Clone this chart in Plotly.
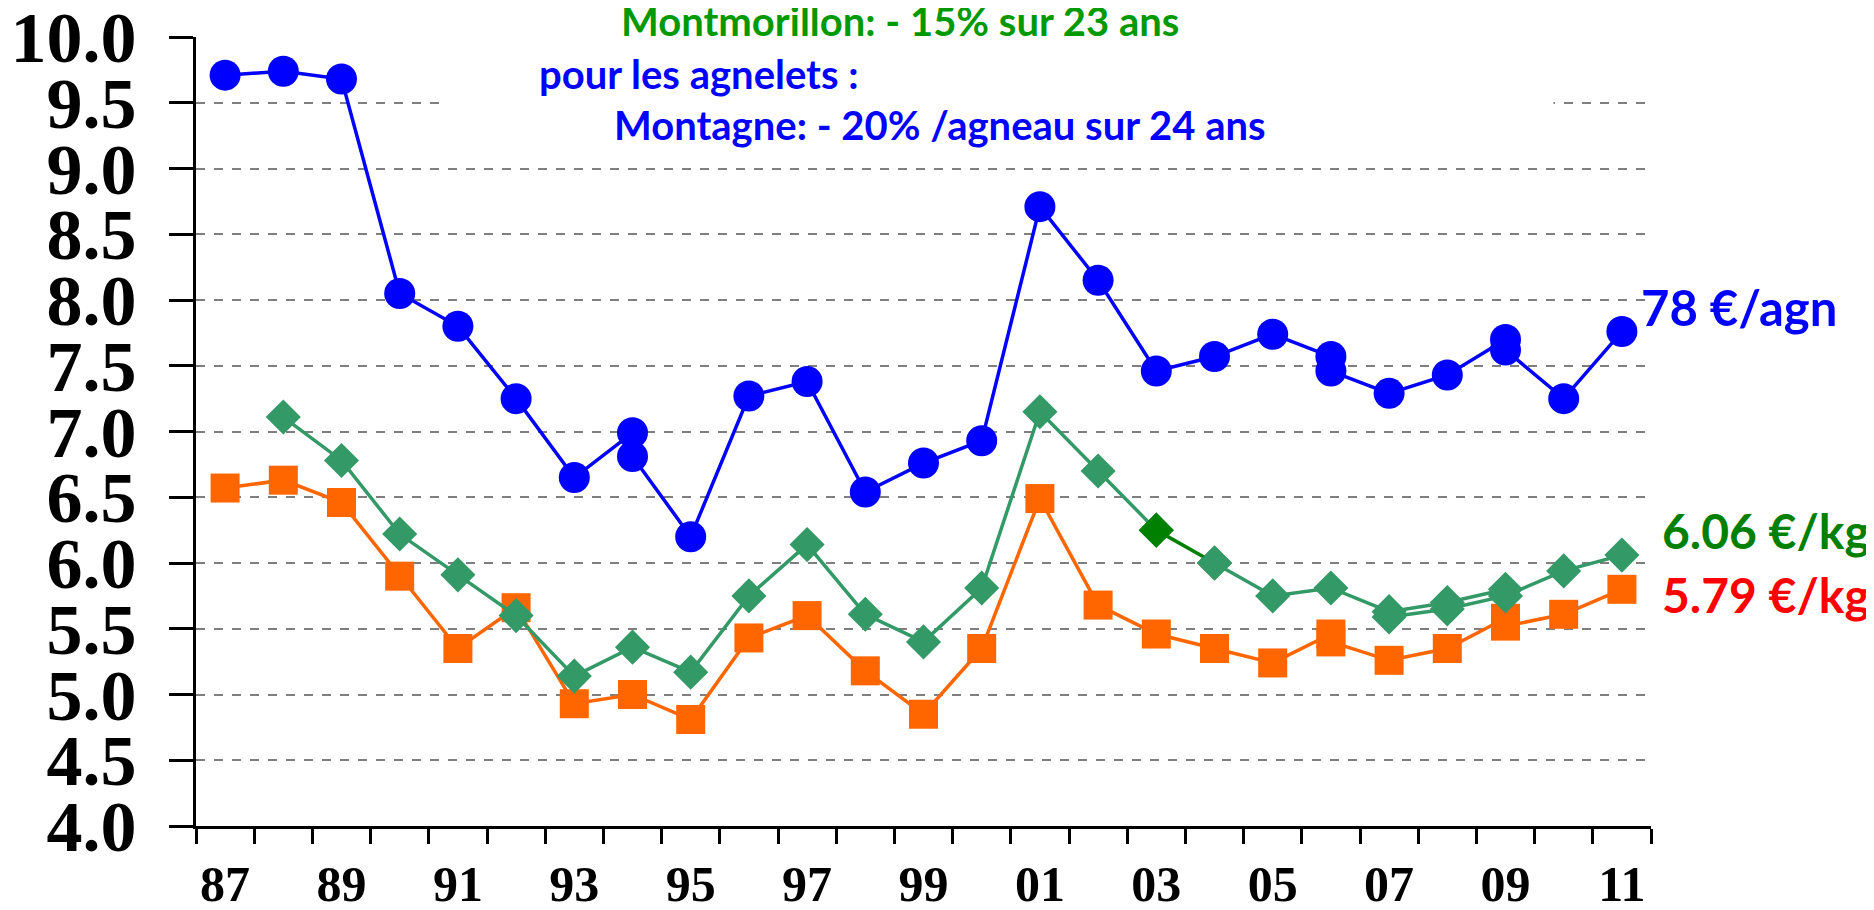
import plotly.graph_objects as go

# ---------------- data ----------------
years = list(range(1987, 2012))
tick_years = years[::2]
tick_labels = ["87", "89", "91", "93", "95", "97", "99", "01", "03", "05", "07", "09", "11"]
y_ticks = [4.0, 4.5, 5.0, 5.5, 6.0, 6.5, 7.0, 7.5, 8.0, 8.5, 9.0, 9.5, 10.0]

# Montagne (price per lamb / 10) - chained segments
blue_a_years = list(range(1987, 1995))
blue_a = [9.71, 9.74, 9.68, 8.05, 7.80, 7.25, 6.65, 6.99]
blue_b_years = list(range(1994, 2007))
blue_b = [6.81, 6.20, 7.27, 7.38, 6.54, 6.76, 6.93, 8.71, 8.15, 7.46, 7.57, 7.74, 7.57]
blue_c_years = list(range(2006, 2010))
blue_c = [7.46, 7.29, 7.43, 7.70]
blue_d_years = list(range(2009, 2012))
blue_d = [7.62, 7.25, 7.76]

# Montmorillon (euro/kg)
green_a_years = list(range(1988, 2004))
green_a = [7.11, 6.78, 6.22, 5.91, 5.60, 5.14, 5.36, 5.17, 5.75, 6.14, 5.61, 5.40, 5.81, 7.15, 6.70, 6.25]
green_b_years = [2003, 2004]
green_b = [6.25, 6.00]
green_c_years = list(range(2004, 2010))
green_c = [6.00, 5.75, 5.81, 5.63, 5.70, 5.80]
green_d_years = list(range(2007, 2012))
green_d = [5.59, 5.65, 5.75, 5.94, 6.06]

# agnelets (euro/kg)
orange_a_years = list(range(1987, 2007))
orange_a = [6.57, 6.63, 6.46, 5.90, 5.35, 5.66, 4.93, 5.00, 4.81, 5.43, 5.60, 5.18, 4.85, 5.35,
            6.49, 5.68, 5.46, 5.35, 5.24, 5.46]
orange_b_years = list(range(2006, 2010))
orange_b = [5.40, 5.26, 5.35, 5.58]
orange_c_years = list(range(2009, 2012))
orange_c = [5.52, 5.61, 5.80]

# ---------------- styles ----------------
BLUE = "#0000FF"
SEA = "#339966"
DKGREEN = "#008000"
ORANGE = "#FF6600"

fig = go.Figure()

def add(xs, ys, color, symbol, size, lw=3.5):
    fig.add_trace(go.Scatter(
        x=xs, y=ys, mode="lines+markers",
        line=dict(color=color, width=lw),
        marker=dict(color=color, symbol=symbol, size=size, line=dict(width=0)),
        showlegend=False, hoverinfo="x+y"))

for xs, ys in [(orange_a_years, orange_a), (orange_b_years, orange_b), (orange_c_years, orange_c)]:
    add(xs, ys, ORANGE, "square", 29)

add(green_a_years, green_a, SEA, "diamond", 27)
add(green_d_years, green_d, SEA, "diamond", 27)
add(green_b_years, green_b, DKGREEN, "diamond", 27)
add(green_c_years, green_c, SEA, "diamond", 27)

for xs, ys in [(blue_a_years, blue_a), (blue_b_years, blue_b), (blue_c_years, blue_c), (blue_d_years, blue_d)]:
    add(xs, ys, BLUE, "circle", 31)

# white box behind title texts (hides gridlines)
fig.add_shape(type="rect", xref="paper", yref="y", x0=0.173, x1=0.933, y0=9.25, y1=10.3,
              fillcolor="white", line=dict(width=0), layer="above")

TXT = "Lato"
ann = [
    dict(text="Montmorillon: - 15% sur 23 ans", x=0.484, y=1.020, color="#009900", size=40, xanchor="center"),
    dict(text="pour les agnelets :", x=0.346, y=0.953, color=BLUE, size=40, xanchor="center"),
    dict(text="Montagne: - 20% /agneau sur 24 ans", x=0.511, y=0.888, color=BLUE, size=40, xanchor="center"),
    dict(text="78 €/agn", x=0.992, y=0.658, color=BLUE, size=49, xanchor="left"),
    dict(text="6.06 €/kg", x=1.006, y=0.375, color=DKGREEN, size=48, xanchor="left"),
    dict(text="5.79 €/kg", x=1.006, y=0.294, color="#FF0000", size=48, xanchor="left"),
]
for a in ann:
    fig.add_annotation(text=a["text"], x=a["x"], y=a["y"], xref="paper", yref="paper",
                       xanchor=a["xanchor"], yanchor="middle", showarrow=False,
                       font=dict(family=TXT, size=a["size"], color=a["color"], weight="bold"))

# page body has an 8px margin -> figure is offset by (8, 8) in the window
fig.update_layout(
    width=1866, height=902,
    margin=dict(l=188, r=223, t=29, b=84, autoexpand=False),
    paper_bgcolor="white", plot_bgcolor="white",
)
fig.update_xaxes(
    range=[1986.5, 2011.5], showline=True, linecolor="black", linewidth=3,
    tickmode="array", tickvals=tick_years, ticktext=tick_labels, ticks="",
    showgrid=False, zeroline=False, ticklabelstandoff=12, automargin=False,
    ticklabeloverflow="allow",
    tickfont=dict(family="Liberation Serif", size=50, color="black", weight="bold"),
    minor=dict(tickmode="array", tickvals=[y - 0.5 for y in years] + [2011.5],
               ticks="outside", ticklen=15, tickwidth=3, tickcolor="black", showgrid=False),
)
fig.update_yaxes(
    range=[4, 10], showline=True, linecolor="black", linewidth=3,
    tickmode="array", tickvals=y_ticks, tickformat=".1f",
    ticks="outside", ticklen=24, tickwidth=3, tickcolor="black",
    showgrid=True, gridcolor="#7f7f7f", griddash="dash", gridwidth=1.5,
    zeroline=False, ticklabelstandoff=18, automargin=False,
    ticklabeloverflow="allow",
    tickfont=dict(family="Liberation Serif", size=72, color="black", weight="bold"),
)

fig.write_html("out.html")
